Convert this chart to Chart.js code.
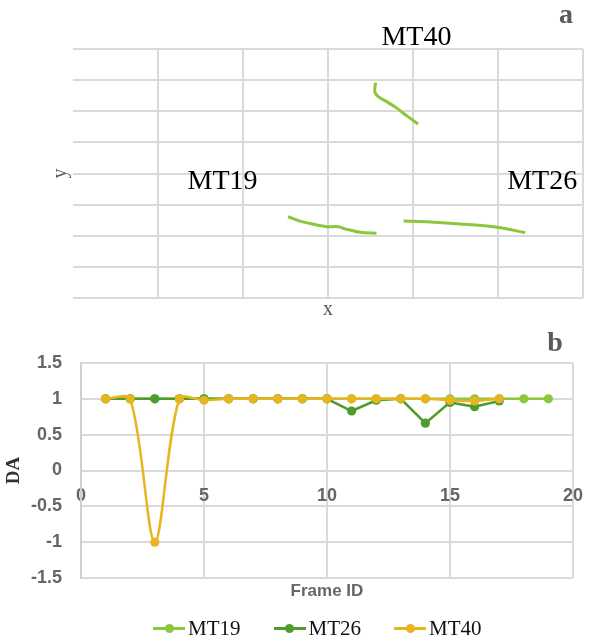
<!DOCTYPE html>
<html>
<head>
<meta charset="utf-8">
<title>Trajectories and DA per frame</title>
<script src="https://cdn.jsdelivr.net/npm/chart.js@4.4.1/dist/chart.umd.min.js"></script>
<style>
  html, body { margin: 0; padding: 0; background: #fff; }
  body { width: 598px; height: 643px; position: relative; overflow: hidden; }
  #wrapA { position: absolute; left: 0; top: 0; }
  #wrapB { position: absolute; left: 0; top: 320px; }
  #legend {
    position: absolute; left: 153px; top: 616px; height: 24px;
    display: flex; align-items: center;
    font-family: "Liberation Serif", "Times New Roman", serif;
    font-size: 21px; line-height: 24px; color: #111;
  }
  #legend .item { display: flex; align-items: center; margin-right: 33px; }
  #legend .mark { position: relative; width: 32px; height: 3px; margin-right: 3px; }
  #legend .mark i { position: absolute; left: 11.5px; top: -3px; width: 9px; height: 9px; border-radius: 50%; }
</style>
</head>
<body>
<div id="wrapA"><canvas id="trackChart" width="598" height="330"></canvas></div>
<div id="wrapB"><canvas id="daChart" width="598" height="292"></canvas></div>
<div id="legend"></div>

<script>
// --- panel a: tracked paths (arbitrary image units) ---
const mt19TrackX = [2.53, 2.67, 2.83, 2.99, 3.12, 3.20, 3.38, 3.57];
const mt19TrackY = [2.61, 2.47, 2.37, 2.29, 2.29, 2.22, 2.11, 2.08];
const mt26TrackX = [3.89, 4.16, 4.55, 4.99, 5.32];
const mt26TrackY = [2.47, 2.45, 2.38, 2.27, 2.10];
const mt40TrackX = [3.56, 3.55, 3.59, 3.69, 3.81, 3.89, 3.97, 4.06];
const mt40TrackY = [6.92, 6.63, 6.47, 6.31, 6.10, 5.93, 5.77, 5.59];

// --- panel b: DA per frame ---
const frameIds = [1, 2, 3, 4, 5, 6, 7, 8, 9, 10, 11, 12, 13, 14, 15, 16, 17, 18, 19];
const mt19DA = [1, 1, 1, 1, 1, 1, 1, 1, 1, 1, 1, 1, 1, 1, 1, 1, 1, 1, 1];
const mt26DA = [1, 1, 1, 1, 1, 1, 1, 1, 1, 1, 0.83, 0.98, 1, 0.66, 0.95, 0.89, 0.97];
const mt40DA = [1, 1, -1, 1, 0.98, 1, 1, 1, 1, 1, 1, 1, 1, 1, 0.98, 0.97, 1];

const seriesNames = ['MT19', 'MT26', 'MT40'];
const seriesColors = ['#8cc63a', '#4e9c2b', '#e8b521'];
const trackColor = '#8cc63a';
const gridColor = '#dadada';
const tickGray = '#595959';

const toPoints = (xs, ys) => xs.map((x, i) => ({ x: x, y: ys[i] }));
const framePoints = vals => vals.map((v, i) => ({ x: frameIds[i], y: v }));

// text drawn on top of the plots (track names, panel letters)
const panelText = {
  id: 'panelText',
  afterDraw(chart, args, opts) {
    const ctx = chart.ctx;
    ctx.save();
    (opts.labels || []).forEach(l => {
      ctx.font = '28px "Liberation Serif", "Times New Roman", serif';
      ctx.fillStyle = '#000';
      ctx.textAlign = 'center';
      ctx.textBaseline = 'middle';
      ctx.fillText(l.text, chart.scales.x.getPixelForValue(l.x), chart.scales.y.getPixelForValue(l.y));
    });
    if (opts.letter) {
      ctx.font = 'bold 28px "Liberation Serif", "Times New Roman", serif';
      ctx.fillStyle = tickGray;
      ctx.textAlign = 'center';
      ctx.textBaseline = 'alphabetic';
      ctx.fillText(opts.letter.text, opts.letter.x, opts.letter.y);
    }
    ctx.restore();
  }
};

Chart.defaults.font.family = '"Liberation Sans", Arial, sans-serif';

// panel a
const trackSets = [
  toPoints(mt19TrackX, mt19TrackY),
  toPoints(mt26TrackX, mt26TrackY),
  toPoints(mt40TrackX, mt40TrackY)
];

new Chart(document.getElementById('trackChart'), {
  type: 'scatter',
  data: {
    datasets: trackSets.map((pts, i) => ({
      label: seriesNames[i],
      data: pts,
      showLine: true,
      borderColor: trackColor,
      borderWidth: 3,
      pointRadius: 0,
      tension: 0.3
    }))
  },
  options: {
    responsive: false,
    animation: false,
    devicePixelRatio: 1,
    layout: { padding: { top: 49, right: 15, left: 0, bottom: 0 } },
    plugins: {
      legend: { display: false },
      tooltip: { enabled: false },
      panelText: {
        labels: [
          { text: 'MT40', x: 4.04, y: 8.37 },
          { text: 'MT19', x: 1.76, y: 3.73 },
          { text: 'MT26', x: 5.52, y: 3.73 }
        ],
        letter: { text: 'a', x: 566, y: 23 }
      }
    },
    scales: {
      x: {
        type: 'linear', min: 0, max: 6,
        ticks: { display: false, stepSize: 1 },
        grid: {
          color: c => (c.tick && c.tick.value === 0 ? 'rgba(0,0,0,0)' : gridColor),
          lineWidth: 2, drawTicks: false
        },
        border: { display: false },
        title: {
          display: true, text: 'x', color: tickGray,
          font: { family: '"Liberation Serif", serif', size: 20 },
          padding: { top: 0, bottom: 8 }
        },
        afterFit: s => { s.height = 32; }
      },
      y: {
        type: 'linear', min: 0, max: 8,
        ticks: { display: false, stepSize: 1 },
        grid: { color: gridColor, lineWidth: 2, drawTicks: false },
        border: { display: false },
        title: {
          display: true, text: 'y', color: tickGray,
          font: { family: '"Liberation Serif", serif', size: 20 },
          padding: { top: 49, bottom: 0 }
        },
        afterFit: s => { s.width = 73; }
      }
    }
  },
  plugins: [panelText]
});

// panel b
const daSeries = [mt19DA, mt26DA, mt40DA];
const tickFont = { size: 18, weight: 'bold' };

new Chart(document.getElementById('daChart'), {
  type: 'line',
  data: {
    datasets: daSeries.map((vals, i) => ({
      label: seriesNames[i],
      data: framePoints(vals),
      xAxisID: 'x',
      borderColor: seriesColors[i],
      backgroundColor: seriesColors[i],
      pointBackgroundColor: seriesColors[i],
      pointBorderColor: seriesColors[i],
      pointBorderWidth: 0,
      pointRadius: 4.6,
      borderWidth: 2.5,
      tension: i === 2 ? 0.3 : 0,
      order: 2 - i,
      fill: false
    }))
  },
  options: {
    responsive: false,
    animation: false,
    devicePixelRatio: 1,
    layout: { padding: { top: 43, right: 12, left: 0, bottom: 0 } },
    plugins: {
      legend: { display: false },
      tooltip: { enabled: false },
      panelText: { letter: { text: 'b', x: 555, y: 31 } }
    },
    scales: {
      x: {
        type: 'linear', position: { y: 0 }, min: 0, max: 20,
        ticks: { stepSize: 5, color: '#666', font: tickFont, padding: 15, maxRotation: 0 },
        grid: { color: gridColor, lineWidth: 2, drawTicks: false },
        border: { color: gridColor, width: 2 }
      },
      x2: {
        type: 'linear', position: 'bottom', min: 0, max: 20,
        ticks: { display: false },
        grid: { display: false },
        border: { display: false },
        title: {
          display: true, text: 'Frame ID', color: '#666',
          font: { size: 17, weight: 'bold' }, padding: { top: 0, bottom: 10 }
        },
        afterFit: s => { s.height = 34; }
      },
      y: {
        type: 'linear', min: -1.5, max: 1.5,
        ticks: {
          stepSize: 0.5, color: '#666', font: tickFont, padding: 19,
          callback: v => String(v)
        },
        grid: { color: gridColor, lineWidth: 2, drawTicks: false },
        border: { color: '#d0d0d0', width: 2 },
        title: {
          display: true, text: 'DA', color: '#333',
          font: { family: '"Liberation Serif", serif', size: 19, weight: 'bold' },
          padding: { top: 3, bottom: 0 }
        },
        afterFit: s => { s.width = 81; }
      }
    }
  },
  plugins: [panelText]
});

// legend below panel b
const legendEl = document.getElementById('legend');
seriesNames.forEach((name, i) => {
  const item = document.createElement('span');
  item.className = 'item';
  const mark = document.createElement('span');
  mark.className = 'mark';
  mark.style.background = seriesColors[i];
  const dot = document.createElement('i');
  dot.style.background = seriesColors[i];
  mark.appendChild(dot);
  const txt = document.createElement('span');
  txt.textContent = name;
  item.appendChild(mark);
  item.appendChild(txt);
  legendEl.appendChild(item);
});
</script>
</body>
</html>
